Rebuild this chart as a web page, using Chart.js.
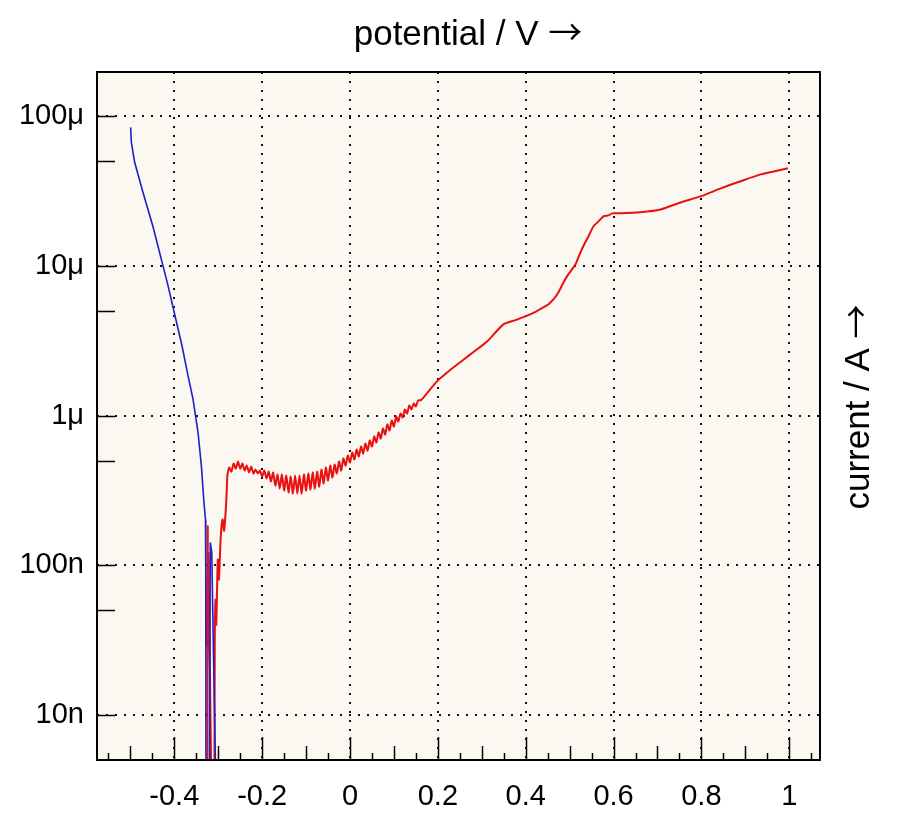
<!DOCTYPE html>
<html>
<head>
<meta charset="utf-8">
<title>Current vs potential</title>
<script src="https://cdn.jsdelivr.net/npm/chart.js@4.4.0/dist/chart.umd.min.js"></script>
<style>
  html, body { margin: 0; padding: 0; background: #fff; }
  #wrap { width: 900px; height: 836px; position: relative; }
</style>
</head>
<body>
<div id="wrap"><canvas id="chart"></canvas></div>
<script>
// cathodic branch (blue), potential in V and current in A
const bluePotential = [-0.4994, -0.4978, -0.4903, -0.4714, -0.4486, -0.4294, -0.4150, -0.3991,
  -0.3831, -0.3694, -0.3573, -0.3460, -0.3382, -0.3330, -0.3291, -0.3284, -0.3277,
  -0.3204, -0.3181, -0.3147, -0.3090, -0.3022];
const blueCurrent = [8.41e-5, 6.68e-5, 4.91e-5, 3.10e-5, 1.83e-5, 1.10e-5, 7.51e-6, 4.73e-6,
  2.98e-6, 1.88e-6, 1.28e-6, 7.70e-7, 4.56e-7, 2.75e-7, 2.02e-7, 9.79e-8, 1e-9,
  1e-9, 1.42e-7, 1.21e-7, 1.26e-8, 1e-9];

// anodic branch (red): spikes, noisy passive region, then the smooth rise
const redPotential = [
  -0.3250, -0.3238, -0.3258, -0.3222, -0.3135,
  -0.3095, -0.3079, -0.3060, -0.3045, -0.3010, -0.2985, -0.2940, -0.2900, -0.2865, -0.2815, -0.2790,
  -0.275, -0.270, -0.265, -0.260, -0.255, -0.250, -0.245, -0.240, -0.235, -0.230,
  -0.225, -0.220, -0.215, -0.210, -0.205, -0.200, -0.195, -0.190, -0.185, -0.180,
  -0.175, -0.170, -0.165, -0.160, -0.155, -0.150, -0.145, -0.140, -0.135, -0.130,
  -0.125, -0.120, -0.115, -0.110, -0.105, -0.100, -0.095, -0.090, -0.085, -0.080,
  -0.075, -0.070, -0.065, -0.060, -0.055, -0.050, -0.045, -0.040, -0.035, -0.030,
  -0.025, -0.020, -0.015, -0.010, -0.005, 0.000, 0.005, 0.010, 0.015, 0.020,
  0.025, 0.030, 0.035, 0.040, 0.045, 0.050, 0.055, 0.060, 0.065, 0.070,
  0.075, 0.080, 0.085, 0.090, 0.095, 0.100, 0.105, 0.110, 0.115, 0.120,
  0.125, 0.130, 0.135, 0.140, 0.145, 0.150, 0.155,
  0.162, 0.198, 0.235, 0.274, 0.312, 0.349, 0.375, 0.399, 0.420, 0.440,
  0.4515, 0.463, 0.4743, 0.486, 0.4971, 0.513, 0.520, 0.531, 0.5428, 0.554,
  0.5656, 0.577, 0.5884, 0.597, 0.6157, 0.661, 0.707, 0.753, 0.798, 0.844,
  0.889, 0.935, 0.997];
const redCurrent = [
  1e-9, 1.8e-7, 2.9e-8, 1.2e-7, 1e-9,
  1e-9, 2.95e-8, 5.9e-8, 4.0e-8, 1.09e-7, 8.0e-8, 1.6e-7, 2.02e-7, 1.7e-7, 2.75e-7, 4.03e-7,
  4.49e-7, 4.22e-7, 4.78e-7, 4.42e-7, 4.93e-7, 4.42e-7, 4.78e-7, 4.29e-7, 4.63e-7, 4.16e-7,
  4.56e-7, 4.10e-7, 4.36e-7, 4.10e-7, 4.29e-7, 3.91e-7, 4.29e-7, 3.79e-7, 4.22e-7, 3.62e-7,
  4.16e-7, 3.40e-7, 4.03e-7, 3.25e-7, 4.03e-7, 3.15e-7, 3.97e-7, 3.06e-7, 3.91e-7, 3.01e-7,
  3.97e-7, 3.01e-7, 3.97e-7, 3.01e-7, 4.03e-7, 3.15e-7, 4.10e-7, 3.20e-7, 4.16e-7, 3.25e-7,
  4.22e-7, 3.35e-7, 4.36e-7, 3.51e-7, 4.49e-7, 3.68e-7, 4.63e-7, 3.85e-7, 4.70e-7, 4.10e-7,
  4.93e-7, 4.29e-7, 5.16e-7, 4.63e-7, 5.40e-7, 4.85e-7, 5.66e-7, 5.08e-7, 5.93e-7, 5.32e-7,
  6.21e-7, 5.57e-7, 6.50e-7, 5.83e-7, 6.81e-7, 6.21e-7, 7.24e-7, 6.60e-7, 7.70e-7, 7.02e-7,
  8.19e-7, 7.46e-7, 8.71e-7, 7.94e-7, 9.26e-7, 8.44e-7, 9.85e-7, 9.12e-7, 1.031e-6, 9.70e-7,
  1.097e-6, 1.031e-6, 1.166e-6, 1.097e-6, 1.203e-6, 1.148e-6, 1.260e-6,
  1.27e-6, 1.69e-6, 2.09e-6, 2.56e-6, 3.12e-6, 4.06e-6, 4.32e-6, 4.59e-6, 4.88e-6, 5.27e-6,
  5.52e-6, 5.96e-6, 6.64e-6, 7.74e-6, 8.76e-6, 1.02e-5, 1.14e-5, 1.35e-5, 1.57e-5, 1.83e-5,
  1.98e-5, 2.14e-5, 2.17e-5, 2.24e-5, 2.24e-5, 2.28e-5, 2.38e-5, 2.65e-5, 2.91e-5, 3.29e-5,
  3.67e-5, 4.08e-5, 4.48e-5];

const xTicks = [-0.4, -0.2, 0, 0.2, 0.4, 0.6, 0.8, 1];
const xTickLabels = ['-0.4', '-0.2', '0', '0.2', '0.4', '0.6', '0.8', '1'];
const yTicks = [1e-8, 1e-7, 1e-6, 1e-5, 1e-4];
const yTickLabels = ['10n', '100n', '1\u03bc', '10\u03bc', '100\u03bc'];
const yMinorTicks = [5e-8, 5e-7, 5e-6, 5e-5];

const FONT = '"Liberation Sans", Arial, sans-serif';
const ARROW_FONT = '"Noto Sans CJK JP", "DejaVu Sans", sans-serif';

function toPoints(xs, ys) {
  return xs.map((x, i) => ({ x: x, y: ys[i] }));
}

// draws "text →" centred on the current origin; the CJK font has a long thin arrow
function drawAxisTitle(ctx, text) {
  ctx.font = '35px ' + FONT;
  const w1 = ctx.measureText(text).width;
  ctx.font = '34px ' + ARROW_FONT;
  const w2 = ctx.measureText('\u2192').width;
  const start = -(w1 + w2) / 2;
  ctx.textAlign = 'left';
  ctx.textBaseline = 'alphabetic';
  ctx.font = '35px ' + FONT;
  ctx.fillText(text, start, 0);
  ctx.font = '34px ' + ARROW_FONT;
  ctx.fillText('\u2192', start + w1, 0);
}

// frame, dotted grid, inner ticks and axis titles
const framePlugin = {
  id: 'frame',
  beforeDatasetsDraw(chart) {
    const { ctx, chartArea: a, scales } = chart;
    ctx.save();
    ctx.fillStyle = '#fbf8f1';
    ctx.fillRect(a.left, a.top, a.right - a.left, a.bottom - a.top);

    ctx.strokeStyle = '#111';
    ctx.lineWidth = 2;
    ctx.setLineDash([2, 7]);
    xTicks.forEach(v => {
      const px = Math.round(scales.x.getPixelForValue(v));
      ctx.beginPath();
      ctx.moveTo(px, a.top);
      ctx.lineTo(px, a.bottom);
      ctx.stroke();
    });
    yTicks.forEach(v => {
      const py = Math.round(scales.y.getPixelForValue(v));
      ctx.beginPath();
      ctx.moveTo(a.left, py);
      ctx.lineTo(a.right, py);
      ctx.stroke();
    });
    ctx.restore();
  },
  afterDatasetsDraw(chart) {
    const { ctx, chartArea: a, scales } = chart;
    ctx.save();
    ctx.strokeStyle = '#000';
    ctx.lineWidth = 1.5;

    // y ticks inside the frame
    yTicks.concat(yMinorTicks).forEach(v => {
      const py = Math.round(scales.y.getPixelForValue(v)) + 0.5;
      ctx.beginPath();
      ctx.moveTo(a.left, py);
      ctx.lineTo(a.left + 18, py);
      ctx.stroke();
    });

    // x ticks every 0.05
    for (let k = -11; k <= 21; k++) {
      const v = k * 0.05;
      const len = k % 4 === 0 ? 23 : (k % 2 === 0 ? 14 : 7);
      const px = Math.round(scales.x.getPixelForValue(v)) + 0.5;
      ctx.beginPath();
      ctx.moveTo(px, a.bottom);
      ctx.lineTo(px, a.bottom - len);
      ctx.stroke();
    }

    ctx.lineWidth = 2;
    ctx.strokeRect(a.left, a.top, a.right - a.left, a.bottom - a.top);

    ctx.fillStyle = '#000';
    ctx.save();
    ctx.translate(468, 45);
    drawAxisTitle(ctx, 'potential / V ');
    ctx.restore();

    ctx.translate(869, 407);
    ctx.rotate(-Math.PI / 2);
    drawAxisTitle(ctx, 'current / A ');
    ctx.restore();
  }
};

new Chart(document.getElementById('chart'), {
  type: 'scatter',
  data: {
    datasets: [
      {
        label: 'cathodic',
        data: toPoints(bluePotential, blueCurrent),
        showLine: true,
        borderColor: '#1f1fc8',
        borderWidth: 1.6,
        pointRadius: 0,
        tension: 0
      },
      {
        label: 'anodic',
        data: toPoints(redPotential, redCurrent),
        showLine: true,
        borderColor: '#e81010',
        borderWidth: 2,
        pointRadius: 0,
        tension: 0.2
      }
    ]
  },
  options: {
    responsive: true,
    maintainAspectRatio: false,
    animation: false,
    events: [],
    layout: { padding: { top: 72, right: 80, left: 0, bottom: 0 } },
    plugins: {
      legend: { display: false },
      tooltip: { enabled: false }
    },
    scales: {
      x: {
        type: 'linear',
        min: -0.576,
        max: 1.07,
        grid: { display: false, drawTicks: false },
        border: { display: false },
        afterBuildTicks: axis => { axis.ticks = xTicks.map(v => ({ value: v })); },
        afterFit: axis => { axis.height = 76; },
        ticks: {
          autoSkip: false,
          maxRotation: 0,
          padding: 20,
          color: '#000',
          font: { family: FONT, size: 29 },
          callback: (value, index) => xTickLabels[index]
        }
      },
      y: {
        type: 'logarithmic',
        min: 5e-9,
        max: 1.97e-4,
        grid: { display: false, drawTicks: false },
        border: { display: false },
        afterBuildTicks: axis => { axis.ticks = yTicks.map(v => ({ value: v })); },
        afterFit: axis => { axis.width = 97; },
        ticks: {
          autoSkip: false,
          padding: 13,
          color: '#000',
          font: { family: FONT, size: 29 },
          callback: (value, index) => yTickLabels[index]
        }
      }
    }
  },
  plugins: [framePlugin]
});
</script>
</body>
</html>
